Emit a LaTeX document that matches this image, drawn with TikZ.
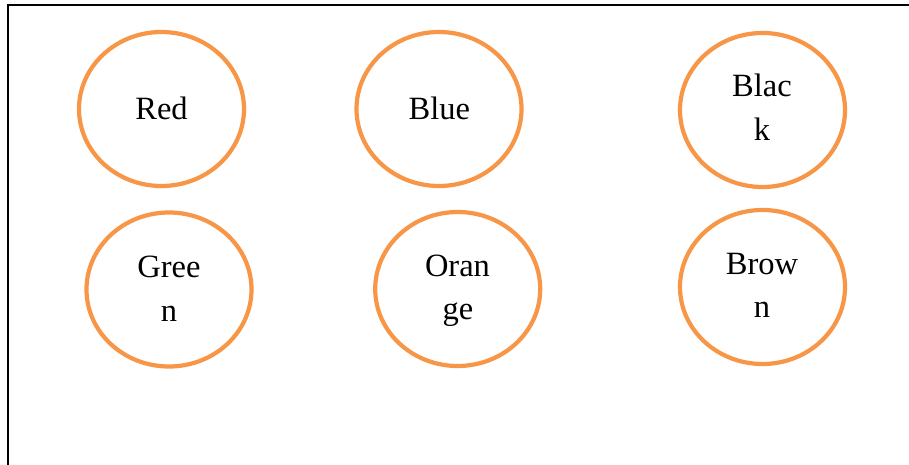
\documentclass[tikz,border=0pt]{standalone}
\usepackage{fontspec}
\setmainfont{Liberation Serif}
\usetikzlibrary{shapes.geometric}
\definecolor{ringorange}{HTML}{F79646}
\tikzset{
  ring/.style={ellipse, draw=ringorange, line width=4.2pt, minimum width=165pt, minimum height=154pt, inner sep=0pt},
  lbl/.style={anchor=base, inner sep=0pt, font=\fontsize{32.5pt}{44pt}\selectfont, text=black},
  frame/.style={draw=black, line width=1.8pt}
}
\begin{document}
\begin{tikzpicture}[x=1pt,y=-1pt]
\useasboundingbox (0,0) rectangle (909,465);
\coordinate (tl) at (8,5);
\coordinate (tr) at (909,5);
\coordinate (bl) at (8,465);
\draw[frame] (tr) -- (tl) -- (bl);
% top row
\node[ring] (red) at (161.5,109) {};
\node[lbl] (redt) at (161.5,119.5) {Red};
\node[ring] (blue) at (439,109) {};
\node[lbl] (bluet) at (439.3,119.5) {Blue};
\node[ring] (black) at (762.5,110) {};
\node[lbl] (blackt1) at (762,97) {Blac};
\node[lbl] (blackt2) at (762,140.5) {k};
% bottom row
\node[ring] (green) at (169,289.5) {};
\node[lbl] (greent1) at (169,277) {Gree};
\node[lbl] (greent2) at (169,321) {n};
\node[ring] (orange) at (457.7,289) {};
\node[lbl] (oranget1) at (457.5,276) {Oran};
\node[lbl] (oranget2) at (458,319.5) {ge};
\node[ring] (brown) at (762.5,287) {};
\node[lbl] (brownt1) at (762,274) {Brow};
\node[lbl] (brownt2) at (762,317.5) {n};
\end{tikzpicture}
\end{document}
